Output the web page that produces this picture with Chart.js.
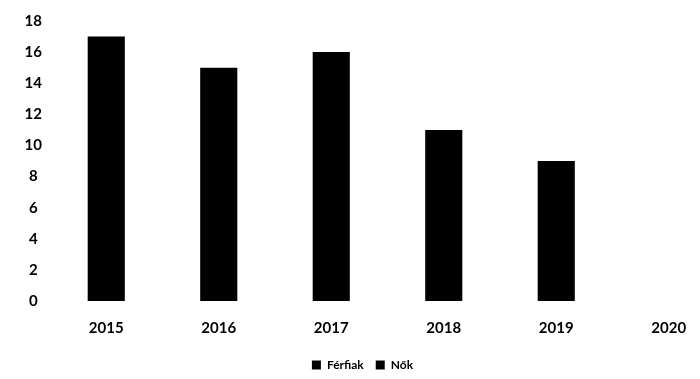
<!DOCTYPE html>
<html>
<head>
<meta charset="utf-8">
<script src="https://cdn.jsdelivr.net/npm/chart.js@4"></script>
<style>
  html, body { margin: 0; padding: 0; background: #fff; overflow: hidden; }
  #wrap { width: 725px; height: 379px; }
</style>
</head>
<body>
<div id="wrap"><canvas id="chart"></canvas></div>
<script>
const years = ['2015', '2016', '2017', '2018', '2019', '2020'];
const ferfiak = [17, 15, 16, 11, 9, 0];
const nok = [0, 0, 0, 0, 0, 0];
const yTicks = [0, 2, 4, 6, 8, 10, 12, 14, 16, 18];

const tickFont = { family: 'Lato', size: 15, weight: 'bold' };
const legendFont = { family: 'Lato', size: 12, weight: 'bold' };

// x labels may run past the axis box, don't clip them
const noLabelClip = {
    id: 'noLabelClip',
    beforeDraw(chart) {
        chart.scales.x._computeLabelArea = () => undefined;
    }
};

new Chart(document.getElementById('chart'), {
    type: 'bar',
    data: {
        labels: years,
        datasets: [
            { label: 'Férfiak', data: ferfiak, backgroundColor: '#000' },
            { label: 'Nők', data: nok, backgroundColor: '#000' }
        ]
    },
    options: {
        responsive: true,
        maintainAspectRatio: false,
        animation: false,
        layout: { padding: { top: 21, bottom: -2 } },
        datasets: { bar: { categoryPercentage: 1, barPercentage: 0.33 } },
        scales: {
            x: {
                stacked: true,
                afterFit: axis => { axis.height = 46; },
                grid: { display: false, drawTicks: false },
                border: { display: false },
                ticks: { color: '#000', font: tickFont, padding: 18, maxRotation: 0 }
            },
            y: {
                stacked: true,
                min: 0,
                max: 18,
                afterBuildTicks: axis => { axis.ticks = yTicks.map(v => ({ value: v })); },
                afterFit: axis => { axis.width = 50; },
                grid: { display: false },
                border: { display: false },
                ticks: { color: '#000', font: tickFont, crossAlign: 'center', padding: 0 }
            }
        },
        plugins: {
            legend: {
                position: 'bottom',
                labels: { color: '#000', font: legendFont, boxWidth: 9, boxHeight: 9, padding: 12 }
            },
            tooltip: { enabled: false }
        }
    },
    plugins: [noLabelClip]
});
</script>
</body>
</html>
